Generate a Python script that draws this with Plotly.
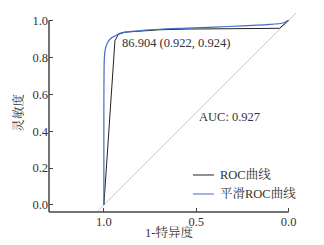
import plotly.graph_objects as go

# Empirical ROC curve (specificity, sensitivity)
roc_spec = [1.0, 0.985, 0.97, 0.955, 0.94, 0.922, 0.886, 0.816, 0.70, 0.55, 0.40, 0.25, 0.05, 0.0]
roc_sens = [0.0, 0.22, 0.45, 0.67, 0.89, 0.924, 0.936, 0.941, 0.949, 0.953, 0.955, 0.956, 0.957, 1.0]

# Smoothed ROC curve
smooth_spec = [1.0, 1.0, 0.998, 0.993, 0.98, 0.96, 0.94, 0.914, 0.85, 0.70, 0.55, 0.40, 0.25, 0.10, 0.03, 0.0]
smooth_sens = [0.0, 0.5, 0.78, 0.84, 0.88, 0.905, 0.915, 0.93, 0.94, 0.952, 0.958, 0.964, 0.970, 0.978, 0.986, 1.0]

diag_x = [1.2, -0.2]
diag_y = [-0.2, 1.2]

x_ticks = [1.0, 0.5, 0.0]
y_ticks = [0.0, 0.2, 0.4, 0.6, 0.8, 1.0]

best_label = "86.904 (0.922, 0.924)"
auc_label = "AUC: 0.927"
legend_names = ["ROC曲线", "平滑ROC曲线"]

x_range = [1.297, -0.04]
y_range = [-0.038, 1.04]

FONT = "Liberation Serif, Noto Serif CJK SC, Noto Sans CJK SC, serif"
TXT = "#333333"
AX = "#444444"
BLACK = "#222222"
BLUE = "#3f6fc6"

fig = go.Figure()
fig.add_trace(go.Scatter(x=diag_x, y=diag_y, mode="lines",
                         line=dict(color="#c8c8c8", width=1), showlegend=False, hoverinfo="skip"))
fig.add_trace(go.Scatter(x=roc_spec, y=roc_sens, mode="lines", name=legend_names[0],
                         line=dict(color=BLACK, width=1), showlegend=False))
fig.add_trace(go.Scatter(x=smooth_spec, y=smooth_sens, mode="lines", name=legend_names[1],
                         line=dict(color=BLUE, width=1.2, shape="spline", smoothing=0.6), showlegend=False))

# axis spines (only over the tick span)
fig.add_shape(type="line", xref="x", yref="paper", x0=x_range[0], x1=0.0, y0=0, y1=0,
              line=dict(color=AX, width=1.5))
fig.add_shape(type="line", xref="paper", yref="y", x0=0, x1=0, y0=y_range[0], y1=1.0,
              line=dict(color=AX, width=1.5))

# text labels
fig.add_annotation(x=0.914, y=0.877, xref="x", yref="y", text=best_label, showarrow=False,
                   xanchor="left", yanchor="middle", font=dict(size=12.5, color=TXT, family=FONT))
fig.add_annotation(x=0.497, y=0.476, xref="x", yref="y", text=auc_label, showarrow=False,
                   xanchor="left", yanchor="middle", font=dict(size=12.5, color=TXT, family=FONT))

# manual legend
leg_y = [0.186, 0.0905]
leg_col = [BLACK, BLUE]
for name, yy, col in zip(legend_names, leg_y, leg_col):
    fig.add_shape(type="line", xref="paper", yref="paper", x0=0.583, x1=0.668, y0=yy, y1=yy,
                  line=dict(color=col, width=1))
    fig.add_annotation(x=0.686, y=yy, xref="paper", yref="paper", text=name, showarrow=False,
                       xanchor="left", yanchor="middle", font=dict(size=12.5, color=TXT, family=FONT))

# axis titles
fig.add_annotation(x=0.486, y=-0.102, xref="paper", yref="paper", text="1-特异度", showarrow=False,
                   xanchor="center", yanchor="middle", font=dict(size=12.5, color=TXT, family=FONT))
fig.add_annotation(x=-0.125, y=0.5, xref="paper", yref="paper", text="灵敏度", showarrow=False,
                   textangle=-90, xanchor="center", yanchor="middle",
                   font=dict(size=12.5, color=TXT, family=FONT))

fig.update_xaxes(range=x_range, tickvals=x_ticks, tickformat=".1f", ticks="inside", ticklen=4,
                 tickcolor=AX, showline=False, showgrid=False, zeroline=False,
                 tickfont=dict(size=12.5, color=TXT, family=FONT))
fig.update_yaxes(range=y_range, tickvals=y_ticks, tickformat=".1f", ticks="inside", ticklen=4,
                 tickcolor=AX, showline=False, showgrid=False, zeroline=False,
                 tickfont=dict(size=12.5, color=TXT, family=FONT))

fig.update_layout(width=324, height=245, margin=dict(l=49, r=28, t=13, b=33),
                  plot_bgcolor="white", paper_bgcolor="white",
                  font=dict(family=FONT, color=TXT), showlegend=False)

fig.write_html("out.html", config={"displayModeBar": False},
               post_script="document.body.style.margin='0';document.body.style.padding='0';")
